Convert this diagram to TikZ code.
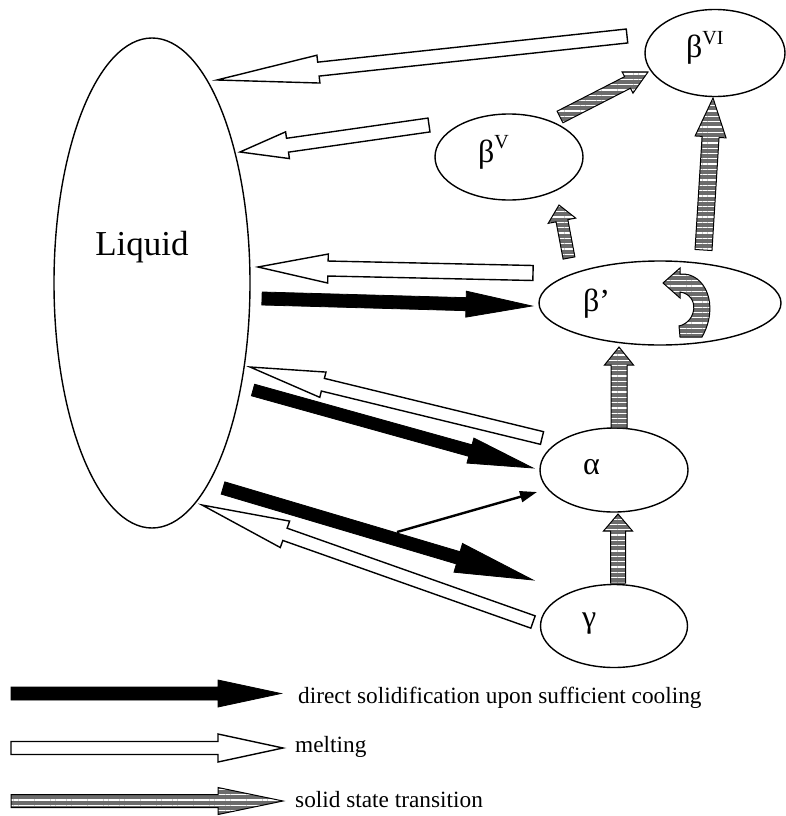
\documentclass[tikz,border=0pt]{standalone}
\usepackage{fontspec}
\setmainfont{Liberation Serif}
\usetikzlibrary{shapes.geometric,calc,arrows.meta,patterns.meta}

% block arrow: style, tail, tip, half shaft, half head, head length
\newcommand{\blockarrow}[6]{%
  \coordinate (hb) at ($(#3)!#6!(#2)$);
  \path[#1] ($(#2)!#4!90:(#3)$) -- ($(hb)!#4!-90:(#2)$) -- ($(hb)!#5!-90:(#2)$) -- (#3)
    -- ($(hb)!#5!90:(#2)$) -- ($(hb)!#4!90:(#2)$) -- ($(#2)!#4!-90:(#3)$) -- cycle;
}
\newcommand{\phsup}[1]{\raisebox{0.42em}{\fontsize{20}{20}\selectfont #1}}

\tikzset{
  phase/.style={draw, ellipse, line width=1.4pt, inner sep=0pt},
  glab/.style={font=\fontsize{32}{32}\selectfont, inner sep=0pt, anchor=base west},
  leg/.style={font=\fontsize{23.3}{24}\selectfont, inner sep=0pt, anchor=base west},
  melt/.style={draw, fill=white, line width=1.4pt},
  solidif/.style={draw, fill=black, line width=0.8pt},
  sst/.style={draw, line width=1pt, preaction={fill=gray!85!black},
    preaction={pattern={Lines[angle=0,distance=5.3pt,line width=1.3pt]}, pattern color=white}},
  thinarr/.style={-{Triangle[length=17pt,width=11pt]}, line width=2.4pt},
}

\begin{document}
\begin{tikzpicture}[x=1pt, y=-1pt]
  \useasboundingbox (0,0) rectangle (786,816);

  % phases
  \node[phase, minimum width=196pt, minimum height=490pt] (liq) at (152,283) {};
  \node[phase, minimum width=140pt, minimum height=87pt] (b6) at (715,53) {};
  \node[phase, minimum width=148pt, minimum height=86pt] (b5) at (509,157) {};
  \node[phase, minimum width=242pt, minimum height=84pt] (bp) at (660,303) {};
  \node[phase, minimum width=148pt, minimum height=84pt] (al) at (614,470) {};
  \node[phase, minimum width=147pt, minimum height=83pt] (ga) at (614,626) {};

  \node[font=\fontsize{35}{35}\selectfont, inner sep=0pt] (liqt) at (142,247) {Liquid};
  \node[glab] (b6t) at (686,58) {β\phsup{VI}};
  \node[glab] (b5t) at (478,162) {β\phsup{V}};
  \node[glab] (bpt) at (583,311) {β’};
  \node[glab] (alt) at (583,474) {α};
  \node[glab] (gat) at (582,627) {γ};

  % melting
  \coordinate (m1a) at (627,36);  \coordinate (m1b) at (217,80);
  \coordinate (m2a) at (429,125); \coordinate (m2b) at (240,152);
  \coordinate (m3a) at (533,273); \coordinate (m3b) at (258,267);
  \coordinate (m4a) at (542,438); \coordinate (m4b) at (250,367);
  \coordinate (m5a) at (533,622); \coordinate (m5b) at (202,505);
  \blockarrow{melt}{m1a}{m1b}{7pt}{14pt}{102pt}
  \blockarrow{melt}{m2a}{m2b}{7pt}{13.5pt}{48pt}
  \blockarrow{melt}{m3a}{m3b}{7.5pt}{14.5pt}{70pt}
  \blockarrow{melt}{m4a}{m4b}{6.5pt}{13pt}{75pt}
  \blockarrow{melt}{m5a}{m5b}{6.5pt}{14pt}{88pt}

  % direct solidification
  \coordinate (s1a) at (262,298.5); \coordinate (s1b) at (532,306);
  \coordinate (s2a) at (253,390);   \coordinate (s2b) at (533,468);
  \coordinate (s3a) at (223,488);   \coordinate (s3b) at (533,580);
  \blockarrow{solidif}{s1a}{s1b}{6.5pt}{13pt}{66pt}
  \blockarrow{solidif}{s2a}{s2b}{6pt}{13pt}{65pt}
  \blockarrow{solidif}{s3a}{s3b}{6.4pt}{15pt}{78pt}
  \coordinate (s3m) at (397,532); \coordinate (alw) at (537,492);
  \draw[thinarr] (s3m) -- (alw);

  % solid state transitions
  \coordinate (t1a) at (618,583); \coordinate (t1b) at (618,514);
  \coordinate (t2a) at (619,428); \coordinate (t2b) at (619,347);
  \coordinate (t3a) at (569,258); \coordinate (t3b) at (559,205);
  \coordinate (t4a) at (703.5,250); \coordinate (t4b) at (713,98);
  \coordinate (t5a) at (560,117); \coordinate (t5b) at (648,72);
  \blockarrow{sst}{t1a}{t1b}{7.5pt}{14.5pt}{17pt}
  \blockarrow{sst}{t2a}{t2b}{8pt}{14.5pt}{18pt}
  \blockarrow{sst}{t3a}{t3b}{6pt}{14pt}{16pt}
  \blockarrow{sst}{t4a}{t4b}{8.5pt}{15.5pt}{39pt}
  \blockarrow{sst}{t5a}{t5b}{6.5pt}{12pt}{23pt}
  \path[sst] (680,274) .. controls (705,272) and (720,305) .. (702,337) -- (680,337) -- (679,326)
    .. controls (697,322) and (700,295) .. (680,292) -- (680,298) -- (663,283) -- (680,268) -- cycle;

  % legend
  \coordinate (l1a) at (11,693.5); \coordinate (l1b) at (281,693.5);
  \coordinate (l2a) at (11,748);   \coordinate (l2b) at (283,748);
  \coordinate (l3a) at (11,801);   \coordinate (l3b) at (283,801);
  \blockarrow{solidif}{l1a}{l1b}{6.5pt}{13.5pt}{63pt}
  \blockarrow{melt}{l2a}{l2b}{6.5pt}{14pt}{65pt}
  \blockarrow{sst}{l3a}{l3b}{6.5pt}{13.5pt}{65pt}
  \node[leg] (l1t) at (298,703) {direct solidification upon sufficient cooling};
  \node[leg] (l2t) at (295,752) {melting};
  \node[leg] (l3t) at (295,807) {solid state transition};
\end{tikzpicture}
\end{document}
